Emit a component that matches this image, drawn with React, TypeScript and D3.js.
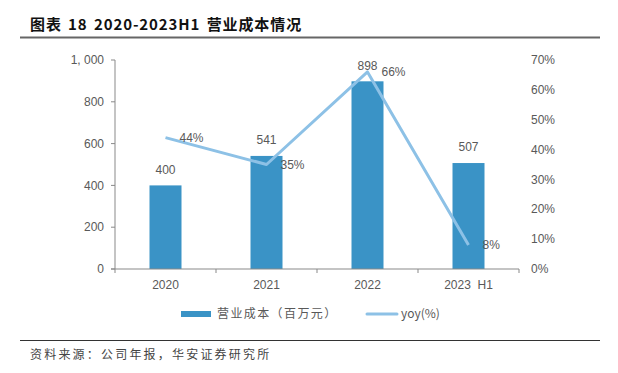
import { useEffect, useRef } from "react"
import * as d3 from "d3"

const categories = ["2020", "2021", "2022", "2023  H1"]
const costValues = [400, 541, 898, 507]
const yoyValues = [0.44, 0.35, 0.66, 0.08]
const leftTicks = [0, 200, 400, 600, 800, 1000]
const rightTicks = [0, 0.1, 0.2, 0.3, 0.4, 0.5, 0.6, 0.7]

const BAR = "#3a93c6"
const LINE = "#8dc1e6"
const TEXT = "#595959"
const AXIS = "#898989"
const NUM_FONT = "'Liberation Sans', Arial, sans-serif"
const CJK_FONT = "'Noto Sans CJK SC', sans-serif"

const App = () => {
  const svgRef = useRef<SVGSVGElement>(null)

  useEffect(() => {
    const svg = d3.select(svgRef.current)
    svg.selectAll("*").remove()

    const x = d3.scaleBand().domain(categories).range([115, 519])
    const yL = d3.scaleLinear().domain([0, 1000]).range([269, 60])
    const yR = d3.scaleLinear().domain([0, 0.7]).range([269, 60])
    const cx = (c: string) => (x(c) as number) + x.bandwidth() / 2
    const barW = 32

    // title
    svg.append("text")
      .attr("x", 30).attr("y", 30)
      .attr("font-family", CJK_FONT).attr("font-weight", "bold")
      .attr("font-size", 15).attr("letter-spacing", 0.9).attr("word-spacing", 2)
      .attr("fill", "#111")
      .text("图表 18 2020-2023H1 营业成本情况")
    svg.append("line")
      .attr("x1", 20).attr("x2", 600).attr("y1", 37.5).attr("y2", 37.5)
      .attr("stroke", "#666").attr("stroke-width", 2)

    // bars
    svg.selectAll(".bar")
      .data(costValues)
      .enter()
      .append("rect")
      .attr("x", (d, i) => cx(categories[i]) - barW / 2)
      .attr("width", barW)
      .attr("y", d => yL(d))
      .attr("height", d => yL(0) - yL(d))
      .attr("fill", BAR)

    svg.selectAll(".barLabel")
      .data(costValues)
      .enter()
      .append("text")
      .attr("x", (d, i) => cx(categories[i]))
      .attr("y", d => yL(d) - 16)
      .attr("dy", "0.35em")
      .attr("text-anchor", "middle")
      .attr("font-family", NUM_FONT).attr("font-size", 12).attr("fill", TEXT)
      .text(d => d)

    // left axis
    const gL = svg.append("g").attr("transform", "translate(115,0)")
    gL.append("line").attr("y1", 60).attr("y2", 269).attr("stroke", AXIS)
    leftTicks.forEach(t => {
      gL.append("line").attr("x1", -4).attr("x2", 0)
        .attr("y1", yL(t)).attr("y2", yL(t)).attr("stroke", AXIS)
      gL.append("text")
        .attr("x", -11).attr("y", yL(t)).attr("dy", "0.35em")
        .attr("text-anchor", "end")
        .attr("font-family", NUM_FONT).attr("font-size", 12).attr("fill", TEXT)
        .text(d3.format(",")(t).replace(",", ", "))
    })

    // right axis labels
    rightTicks.forEach(t => {
      svg.append("text")
        .attr("x", 531).attr("y", yR(t)).attr("dy", "0.35em")
        .attr("font-family", NUM_FONT).attr("font-size", 12).attr("fill", TEXT)
        .text(d3.format(".0%")(t))
    })

    // x axis
    svg.append("line").attr("x1", 111).attr("x2", 519)
      .attr("y1", 269).attr("y2", 269).attr("stroke", AXIS)
    const edges = [...categories.map(c => x(c) as number), 519]
    edges.forEach(e => {
      svg.append("line").attr("x1", e).attr("x2", e)
        .attr("y1", 269).attr("y2", 273).attr("stroke", AXIS)
    })
    categories.forEach(c => {
      svg.append("text")
        .attr("x", cx(c)).attr("y", 285).attr("dy", "0.35em")
        .attr("text-anchor", "middle").attr("xml:space", "preserve")
        .style("white-space", "pre")
        .attr("font-family", NUM_FONT).attr("font-size", 12).attr("fill", TEXT)
        .text(c)
    })

    // yoy line
    const line = d3.line<number>()
      .x((d, i) => cx(categories[i]))
      .y(d => yR(d))
    svg.append("path")
      .datum(yoyValues)
      .attr("fill", "none")
      .attr("stroke", LINE)
      .attr("stroke-width", 3)
      .attr("stroke-linejoin", "round")
      .attr("d", line)

    svg.selectAll(".yoyLabel")
      .data(yoyValues)
      .enter()
      .append("text")
      .attr("x", (d, i) => cx(categories[i]) + 14)
      .attr("y", d => yR(d))
      .attr("dy", "0.35em")
      .attr("font-family", NUM_FONT).attr("font-size", 12).attr("fill", TEXT)
      .text(d => d3.format(".0%")(d))

    // legend
    svg.append("rect").attr("x", 181).attr("y", 311).attr("width", 30).attr("height", 6).attr("fill", BAR)
    svg.append("text")
      .attr("x", 217).attr("y", 314).attr("dy", "0.35em")
      .attr("font-family", CJK_FONT).attr("font-size", 12).attr("letter-spacing", 1.4)
      .attr("fill", TEXT)
      .text("营业成本（百万元）")
    svg.append("line").attr("x1", 367).attr("x2", 397).attr("y1", 314).attr("y2", 314)
      .attr("stroke", LINE).attr("stroke-width", 3).attr("stroke-linecap", "round")
    svg.append("text")
      .attr("x", 401).attr("y", 314).attr("dy", "0.35em")
      .attr("font-family", CJK_FONT).attr("font-size", 12).attr("fill", TEXT)
      .text("yoy(%)")

    // source
    svg.append("line")
      .attr("x1", 20).attr("x2", 600).attr("y1", 340.5).attr("y2", 340.5)
      .attr("stroke", "#333").attr("stroke-width", 1)
    svg.append("text")
      .attr("x", 30).attr("y", 355).attr("dy", "0.35em")
      .attr("font-family", CJK_FONT).attr("font-size", 12).attr("letter-spacing", 2.2)
      .attr("fill", "#444")
      .text("资料来源：公司年报，华安证券研究所")
  }, [])

  return (
    <svg ref={svgRef} width={618} height={373}
      style={{ position: "absolute", left: 0, top: 0, background: "#fff" }} />
  )
}

export default App
